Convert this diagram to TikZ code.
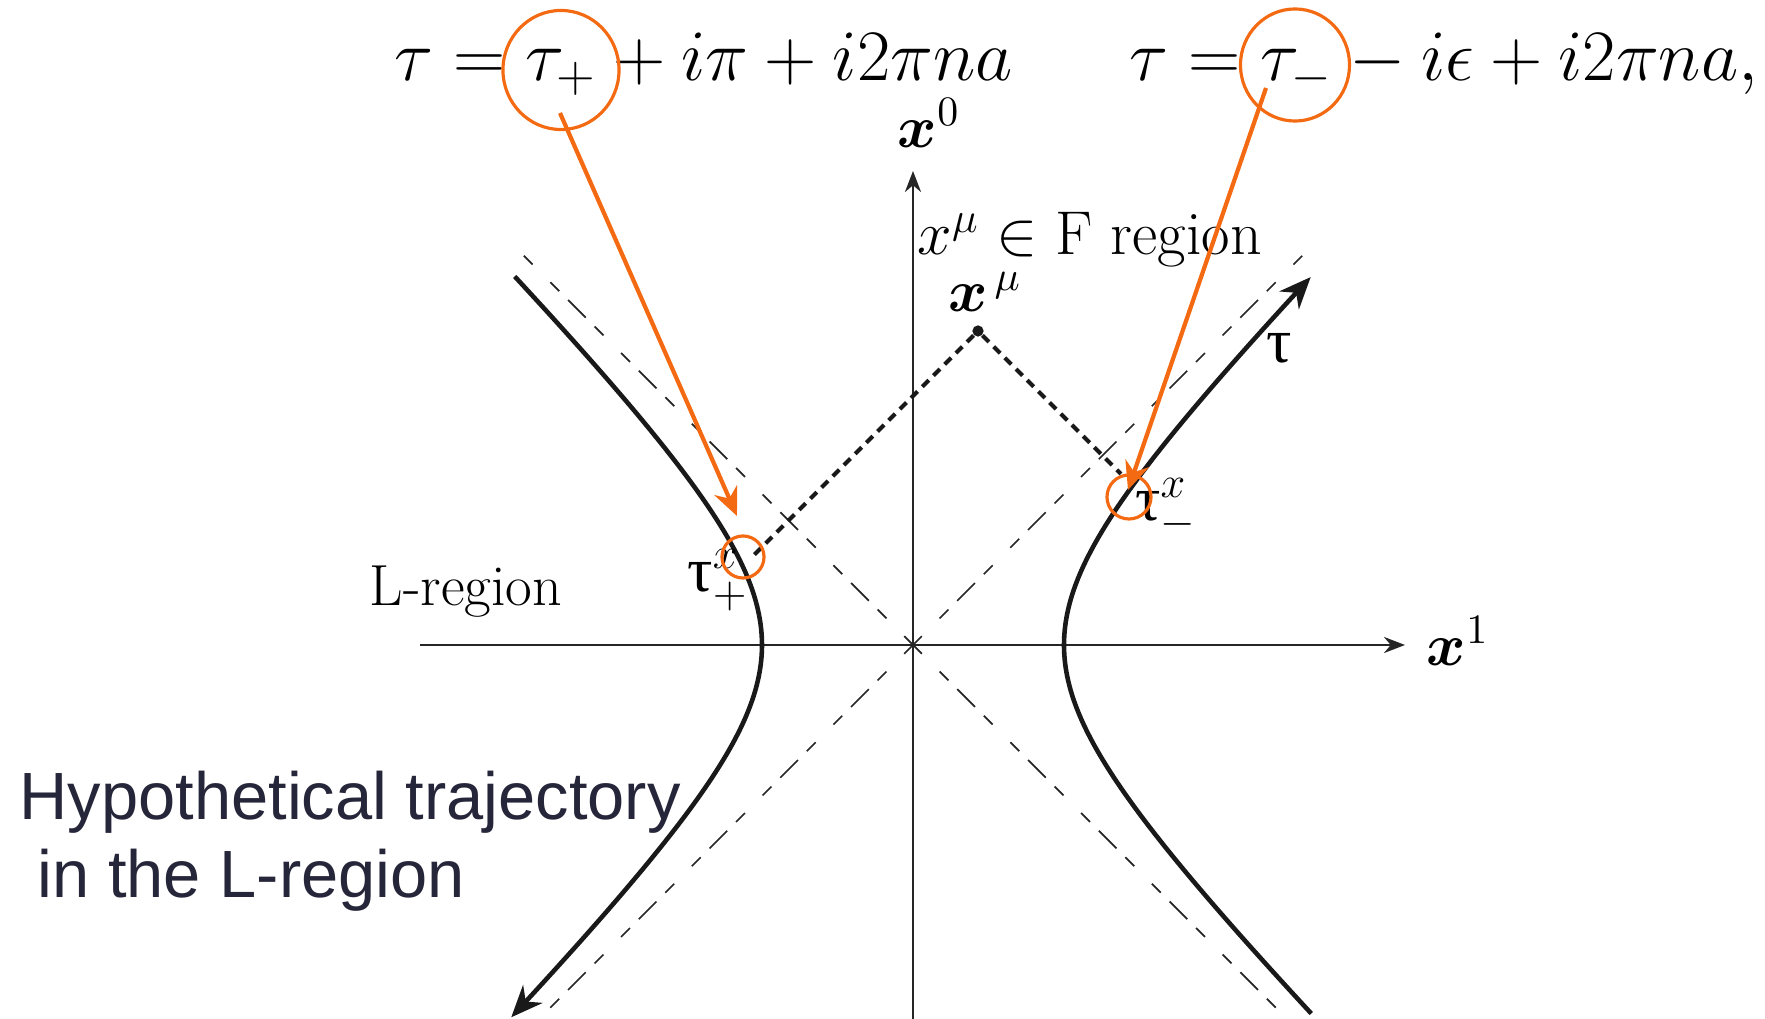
\RequirePackage{fix-cm}
\documentclass[tikz,border=0pt]{standalone}
\usepackage{amsmath}
\usepackage{fontspec}
\newfontfamily\tfont{Liberation Serif}
\newfontfamily\hfont{Liberation Sans}
\usetikzlibrary{arrows.meta,shapes.geometric}
\definecolor{org}{HTML}{F46A12}
\definecolor{hyp}{HTML}{26263A}
\begin{document}
\begin{tikzpicture}[x=0.01cm,y=-0.01cm,
  every node/.style={inner sep=0pt},
  axis/.style={line width=0.55pt, draw=black!85, -{Stealth[length=6pt,width=4.6pt]}},
  asym/.style={line width=0.5pt, draw=black!85, dash pattern=on 3.56pt off 7.11pt on 3.56pt},
  hyper/.style={line width=1.3pt, draw=black!90},
  lightcone/.style={line width=1.2pt, draw=black!90, dash pattern=on 2.6pt off 1.9pt},
  ocirc/.style={draw=org, line width=0.9pt, ellipse},
  oarrow/.style={draw=org, line width=1.2pt, -{Stealth[length=8pt,width=7pt]}},
  eqtext/.style={font=\fontsize{20.6}{24}\selectfont},
  lbl/.style={font=\fontsize{17.6}{21}\selectfont},
  lreglbl/.style={font=\fontsize{16.5}{20}\selectfont},
  xlbl/.style={font=\fontsize{17}{20}\selectfont},
  taulbl/.style={font=\tfont\fontsize{18}{21}\selectfont},
  sanslbl/.style={font=\hfont\fontsize{19}{23}\selectfont, text=hyp}
]
\useasboundingbox (0,0) rectangle (1765,1019);
\coordinate (O) at (913,645);

% axes
\coordinate (xl) at (420,645); \coordinate (xr) at (1405,645);
\coordinate (yb) at (913,1019); \coordinate (yt) at (913,171);
\draw[axis] (xl) -- (xr);
\draw[axis] (yb) -- (yt);

% asymptotes
\coordinate (dTL) at (521,253); \coordinate (dTR) at (1305,253);
\coordinate (dBL) at (545,1013); \coordinate (dBR) at (1281,1013);
\draw[asym] (O) -- (dTL);
\draw[asym] (O) -- (dTR);
\draw[asym] (O) -- (dBL);
\draw[asym] (O) -- (dBR);

% hyperbolas
\draw[hyper, -{Stealth[length=9pt,width=7.5pt]}] plot[domain=-1.625:1.625, samples=120, smooth] ({913+151*cosh(\x)},{645-151*sinh(\x)});
\draw[hyper, -{Stealth[length=9pt,width=7.5pt]}] plot[domain=-1.625:1.635, samples=120, smooth] ({913-151*cosh(\x)},{645+151*sinh(\x)});

% event point and light cone
\node[circle, fill=black!90, minimum size=3.2pt] (xm) at (978,331) {};
\coordinate (lp) at (752,557);
\coordinate (rp) at (1121,474);
\draw[lightcone] (xm) -- (lp);
\draw[lightcone] (xm) -- (rp);

% equations
\node[eqtext, anchor=base west] (eq1) at (394,81) {$\tau = \tau_{+} + i\pi + i2\pi n a$};
\node[eqtext, anchor=base west] (eq2) at (1129,81) {$\tau = \tau_{-} - i\epsilon + i2\pi n a,$};

% labels
\node[xlbl] (x0) at (929,123) {$\boldsymbol{x}^{0}$};
\node[xlbl] (x1) at (1458,641) {$\boldsymbol{x}^{1}$};
\node[xlbl] (xmul) at (985,292) {$\boldsymbol{x}^{\,\mu}$};
\node[lbl, anchor=base west] (freg) at (917,255) {$x^{\mu}\in \mathrm{F}$\ region};
\node[lreglbl, anchor=base west] (lreg) at (369,606) {L-region};
\node[taulbl] (tau) at (1279,348) {τ};
\node[taulbl] (tp) at (718,580) {τ$^{x}_{+}$};
\node[taulbl] (tm) at (1166,509) {τ$^{x}_{-}$};
\node[sanslbl, anchor=base west] (h1) at (19,820) {Hypothetical trajectory};
\node[sanslbl, anchor=base west] (h2) at (37,898) {in the L-region};

% orange highlights
\node[ocirc, minimum width=1.16cm, minimum height=1.19cm] (bc1) at (561,70) {};
\node[ocirc, minimum width=1.09cm, minimum height=1.12cm] (bc2) at (1295,65) {};
\node[ocirc, circle, minimum size=0.42cm] (sc1) at (743,557) {};
\node[ocirc, circle, minimum size=0.44cm] (sc2) at (1129,497) {};
\coordinate (a1s) at (560,113); \coordinate (a1e) at (737,516);
\coordinate (a2s) at (1266,88); \coordinate (a2e) at (1128,490);
\draw[oarrow] (a1s) -- (a1e);
\draw[oarrow] (a2s) -- (a2e);
\end{tikzpicture}
\end{document}
